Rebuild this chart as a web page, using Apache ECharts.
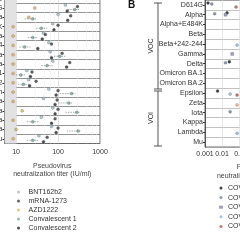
<!DOCTYPE html>
<html>
<head>
<meta charset="utf-8">
<script src="https://cdn.jsdelivr.net/npm/echarts@6/dist/echarts.min.js"></script>
<style>
html, body { margin: 0; padding: 0; background: #fff; }
#chart { width: 240px; height: 240px; }
</style>
</head>
<body>
<div id="chart"></div>
<script>
// ---- panel A : titers per variant (top row is cut off by the crop) ----
var rowsA = ["WA1/2020", "D614G", "Alpha", "Alpha+E484K", "Beta", "Beta+242-244", "Gamma", "Delta",
  "Omicron BA.1", "Omicron BA.2", "Epsilon", "Zeta", "Iota", "Kappa", "Lambda", "Mu"];
var bnt = [null, 150, 100, 75, 45, 60, 65, 75, 18, 20, 60, 45, 75, 40, 70, 35];
var mrna = [null, 290, 200, 100, 50, 70, 125, 190, 24, 30, 100, 95, 100, 85, 100, 55];
var azd = [null, 28, 20, 8.5, 8.5, 8.5, 8.5, 8.5, 8.5, 8.5, 8.5, 8.5, 14, 8.5, 10, 8.5];
var conv1 = [null, 250, 25, 40, 25, 16, 110, 55, 13, 15, 210, 180, 280, 25, 300, 25];
var conv1Lo = [null, 170, 16, 30, 19, 12, 80, 40, 10, 11, 110, 100, 150, 18, 160, 18];
var conv1Hi = [null, 330, 32, 55, 32, 22, 150, 75, 17, 20, 260, 230, 330, 35, 340, 34];
var conv2 = [null, 165, 170, 80, 42, 33, 70, 160, 22, 21, 90, 85, 85, 70, 90, 45];
var ticksA = [10, 100, 1000];
var lodA = 10;

// ---- panel B : ratios per variant (mostly cropped on the right) ----
var variantsB = ["D614G", "Alpha", "Alpha+E484K", "Beta", "Beta+242-244", "Gamma", "Delta",
  "Omicron BA.1", "Omicron BA.2", "Epsilon", "Zeta", "Iota", "Kappa", "Lambda", "Mu"];
var cov1 = [0.0015, 0.02, null, null, null, null, 0.027, null, null, 0.0055, null, null, null, null, null];
var cov2 = [0.0025, 0.0037, null, null, null, null, 0.016, null, null, null, null, 0.03, null, null, null];
var cov3 = [null, 0.016, null, null, null, 0.04, null, null, null, null, null, null, null, null, null];
var cov4 = [null, null, null, null, 0.077, null, null, null, null, 0.03, null, null, null, 0.077, null];
var cov5 = [0.067, null, null, null, null, null, null, null, null, 0.077, null, null, null, null, null];
var cov6 = [null, null, null, null, null, null, null, null, null, null, 0.077, null, null, null, null];

var font = "Liberation Sans";
var axisName = "Pseudovirus\nneutralization titer (IU/ml)";

function pts(arr) {
  return arr.map(function (v, i) { return v == null ? null : [v, i]; });
}

function dot(name, arr, color, dy, grid, sym) {
  return {
    name: name,
    type: "scatter",
    xAxisIndex: grid, yAxisIndex: grid,
    data: pts(arr),
    symbol: sym || "circle",
    symbolSize: 3,
    symbolOffset: [0, dy],
    itemStyle: { color: color, borderColor: "#444", borderWidth: 0.3 },
    z: 5
  };
}

var seriesA = [
  dot("BNT162b2", bnt, "#9cbccc", -3, 0),
  dot("mRNA-1273", mrna, "#3a3a3a", -1.5, 0),
  dot("AZD1222", azd, "#e2b450", 0, 0),
  dot("Convalescent 1", conv1, "#78a8a4", 1.5, 0),
  dot("Convalescent 2", conv2, "#222222", 3, 0)
];
// shaded area below the limit of detection
seriesA[0].markArea = {
  silent: true,
  itemStyle: { color: "#e2e2e2" },
  data: [[{ xAxis: 5.3 }, { xAxis: lodA }]]
};

// dashed error bars for Convalescent 1
var errA = {
  type: "custom",
  xAxisIndex: 0, yAxisIndex: 0,
  data: conv1Lo.map(function (v, i) { return v == null ? null : [v, conv1Hi[i], i]; }).filter(Boolean),
  encode: { x: [0, 1], y: 2 },
  renderItem: function (params, api) {
    var a = api.coord([api.value(0), api.value(2)]);
    var b = api.coord([api.value(1), api.value(2)]);
    return {
      type: "line",
      shape: { x1: a[0], y1: a[1] + 1.5, x2: b[0], y2: b[1] + 1.5 },
      style: { stroke: "#777", lineWidth: 0.6, lineDash: [1.5, 1] }
    };
  },
  z: 4
};

var seriesB = [
  dot("COV-1", cov1, "#111111", -2, 1),
  dot("COV-2", cov2, "#6f80a2", -1, 1),
  dot("COV-3", cov3, "#8a8aa8", 0, 1, "rect"),
  dot("COV-4", cov4, "#8fb8d8", 1, 1),
  dot("COV-5", cov5, "#b4524a", 2, 1),
  dot("COV-6", cov6, "#e8b08c", 2, 1)
];

var chart = echarts.init(document.getElementById("chart"), null, { renderer: "canvas" });

var option = {
  animation: false,
  textStyle: { fontFamily: font },
  grid: [
    { left: 4.5, right: 140, top: -6, height: 149.5, show: true, borderColor: "#444", borderWidth: 0.8,
      containLabel: false, outerBoundsMode: "none" },
    { left: 205, right: -67, top: 0, bottom: 93, show: true, borderColor: "#444", borderWidth: 0.8,
      containLabel: false, outerBoundsMode: "none" }
  ],
  xAxis: [
    {
      type: "log", gridIndex: 0, logBase: 10, min: 5.3, max: 1000,
      axisLine: { lineStyle: { color: "#333", width: 0.8 } },
      axisTick: { length: 2, lineStyle: { color: "#333" } },
      axisLabel: { fontSize: 7, color: "#333", margin: 5, showMinLabel: false,
        formatter: function (v) { return ticksA.indexOf(Math.round(v)) >= 0 ? String(Math.round(v)) : ""; } },
      splitLine: { show: true, lineStyle: { color: "#cfcfcf", width: 0.6 } },
      minorSplitLine: { show: true, lineStyle: { color: "#eeeeee", width: 0.5 } },
      name: axisName, nameLocation: "middle", nameGap: 18,
      nameTextStyle: { fontSize: 7, lineHeight: 8.5, color: "#444" }
    },
    {
      type: "log", gridIndex: 1, logBase: 10, min: 0.001, max: 1000,
      axisLine: { lineStyle: { color: "#333", width: 0.8 } },
      axisTick: { length: 2, lineStyle: { color: "#333" } },
      axisLabel: { fontSize: 7, color: "#333", margin: 4 },
      splitLine: { show: true, lineStyle: { color: "#d8d8d8", width: 0.6 } },
      name: axisName, nameLocation: "middle", nameGap: 12,
      nameTextStyle: { fontSize: 7, lineHeight: 8.5, color: "#444" }
    }
  ],
  yAxis: [
    {
      type: "category", gridIndex: 0, data: rowsA, inverse: true,
      axisLine: { lineStyle: { color: "#333", width: 0.8 } },
      axisTick: { show: true, length: 2, alignWithLabel: true },
      axisLabel: { fontSize: 7, color: "#333", margin: 2 },
      splitLine: { show: true, lineStyle: { color: "#666", width: 0.7 } }
    },
    {
      type: "category", gridIndex: 1, data: variantsB, inverse: true,
      axisLine: { lineStyle: { color: "#333", width: 0.8 } },
      axisTick: { show: true, length: 2, alignWithLabel: true },
      axisLabel: { fontSize: 7, color: "#333", margin: 2 },
      splitLine: { show: true, lineStyle: { color: "#999", width: 0.6 } }
    }
  ],
  legend: [
    {
      data: ["BNT162b2", "mRNA-1273", "AZD1222", "Convalescent 1", "Convalescent 2"],
      orient: "vertical", left: 17, top: 188, padding: 0, itemWidth: 10, itemHeight: 3, itemGap: 1,
      itemStyle: { borderWidth: 0 },
      textStyle: { fontSize: 7, lineHeight: 8, color: "#333" }
    },
    {
      data: ["COV-1", "COV-2", "COV-3", "COV-4", "COV-5", "COV-6"],
      orient: "vertical", left: 219, top: 184, padding: 0, itemWidth: 4, itemHeight: 3, itemGap: 1.6,
      itemStyle: { borderWidth: 0 },
      textStyle: { fontSize: 7, lineHeight: 8, color: "#333" }
    }
  ],
  graphic: [
    { type: "text", left: 128, top: 0, style: { text: "B", font: "bold 10px " + font, fill: "#111" } },
    // VOC / VOI bracket
    { type: "line", shape: { x1: 158, y1: 3, x2: 158, y2: 89 }, style: { stroke: "#555", lineWidth: 1 } },
    { type: "line", shape: { x1: 154, y1: 3, x2: 162, y2: 3 }, style: { stroke: "#555", lineWidth: 1 } },
    { type: "line", shape: { x1: 154, y1: 89, x2: 162, y2: 89 }, style: { stroke: "#555", lineWidth: 1 } },
    { type: "line", shape: { x1: 158, y1: 91, x2: 158, y2: 146 }, style: { stroke: "#555", lineWidth: 1 } },
    { type: "line", shape: { x1: 154, y1: 91, x2: 162, y2: 91 }, style: { stroke: "#555", lineWidth: 1 } },
    { type: "line", shape: { x1: 154, y1: 146, x2: 162, y2: 146 }, style: { stroke: "#555", lineWidth: 1 } },
    { type: "text", x: 151, y: 46, rotation: Math.PI / 2,
      style: { text: "VOC", font: "7px " + font, fill: "#333", align: "center", verticalAlign: "middle" } },
    { type: "text", x: 151, y: 118, rotation: Math.PI / 2,
      style: { text: "VOI", font: "7px " + font, fill: "#333", align: "center", verticalAlign: "middle" } }
  ],
  series: seriesA.concat([errA]).concat(seriesB)
};

chart.setOption(option);
</script>
</body>
</html>
